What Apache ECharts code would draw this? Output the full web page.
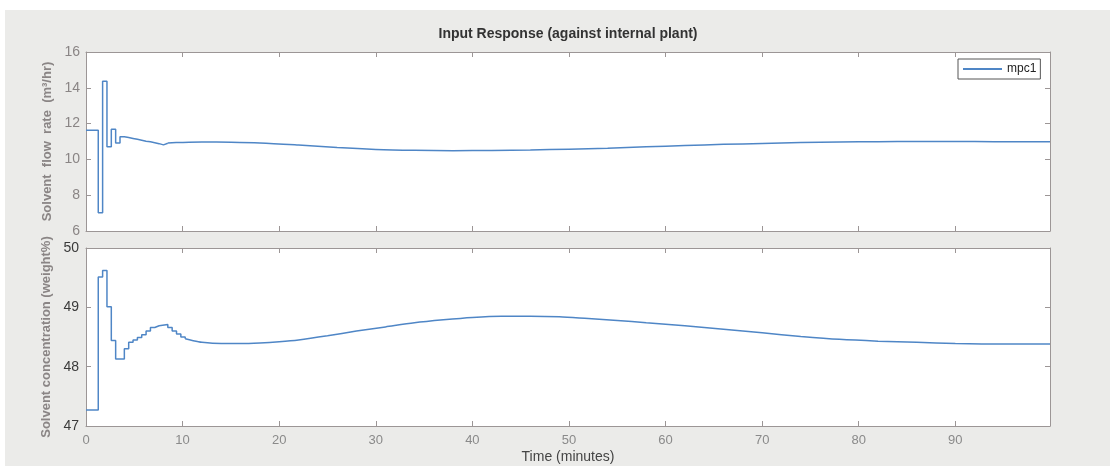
<!DOCTYPE html>
<html>
<head>
<meta charset="utf-8">
<script src="https://cdn.jsdelivr.net/npm/echarts@6/dist/echarts.min.js"></script>
<style>
  html, body { margin: 0; padding: 0; background: #ffffff; }
  #chart { width: 1110px; height: 466px; }
</style>
</head>
<body>
<div id="chart"></div>
<script>
// Solvent flow rate (m3/hr): sampled controller moves, held between samples
const flowStepTime  = [0, 1.27, 1.72, 2.17, 2.62, 3.07, 3.52, 3.97, 4.42, 4.87, 5.32, 5.77, 6.22, 6.67, 7.12, 7.57, 8.02, 8.47];
const flowStepValue = [11.63, 7.02, 14.37, 10.71, 11.69, 10.91, 11.26, 11.22, 11.17, 11.12, 11.07, 11.02, 10.98, 10.93, 10.88, 10.81, 10.9, 10.92];
// Slow tail of the flow-rate response
const flowTailTime  = [8.47, 10, 12, 15, 18, 22, 26, 30, 34, 38, 42, 46, 50, 54, 58, 62, 66, 70, 74, 78, 82, 86, 90, 94, 99.8];
const flowTailValue = [10.92, 10.95, 10.97, 10.96, 10.92, 10.8, 10.66, 10.56, 10.51, 10.49, 10.5, 10.53, 10.57, 10.62, 10.7, 10.77, 10.84, 10.89, 10.94, 10.97, 10.99, 11.0, 11.0, 10.99, 10.98];

// Solvent concentration (weight%)
const concStepTime  = [0, 1.27, 1.72, 2.17, 2.62, 3.07, 3.97, 4.42, 4.87, 5.32, 5.77, 6.22, 6.67, 7.12, 7.57, 8.47, 8.92, 9.37, 9.82, 10.27];
const concStepValue = [47.27, 49.51, 49.62, 49.01, 48.44, 48.13, 48.3, 48.41, 48.45, 48.49, 48.54, 48.6, 48.66, 48.69, 48.71, 48.66, 48.6, 48.55, 48.5, 48.47];
const concTailTime  = [10.27, 11, 12, 14, 16, 18, 20, 22, 25, 28, 31, 34, 37, 40, 43, 46, 49, 52, 55, 58, 62, 66, 70, 74, 78, 82, 86, 90, 95, 99.8];
const concTailValue = [48.47, 48.44, 48.41, 48.39, 48.39, 48.4, 48.42, 48.45, 48.52, 48.6, 48.67, 48.74, 48.79, 48.83, 48.85, 48.85, 48.84, 48.81, 48.78, 48.74, 48.69, 48.63, 48.57, 48.51, 48.46, 48.43, 48.41, 48.39, 48.38, 48.38];

// Axis ranges and ticks
const timeRange  = [0, 99.8];
const timeStep   = 10;
const flowRange  = [6, 16];
const flowStep   = 2;
const concRange  = [47, 50];
const concStep   = 1;

const titleText  = 'Input Response (against internal plant)';
const flowName   = 'Solvent  flow  rate  (m³/hr)';
const concName   = 'Solvent concentration (weight%)';
const timeName   = 'Time (minutes)';
const seriesName = 'mpc1';

const zip = (t, v) => t.map((x, i) => [x, v[i]]);

const FONT = '"Liberation Sans", Arial, Helvetica, sans-serif';
const frameColor = '#9c9696';
const lineColor = '#4f86c6';

function frameAxis(extra) {
  return Object.assign({
    type: 'value',
    axisLine: { show: true, onZero: false, lineStyle: { color: frameColor, width: 1 } },
    axisTick: { show: true, inside: true, length: 5, lineStyle: { color: frameColor, width: 1 } },
    splitLine: { show: false },
    axisLabel: { show: false }
  }, extra);
}

const chart = echarts.init(document.getElementById('chart'), null, { renderer: 'canvas' });

const option = {
  backgroundColor: '#ffffff',
  animation: false,
  graphic: [{
    type: 'rect', z: -10, silent: true,
    shape: { x: 5, y: 10, width: 1105, height: 456 },
    style: { fill: '#ebebe9' }
  }],
  title: {
    text: titleText,
    left: 568, top: 27, textAlign: 'center', padding: 0,
    textStyle: { fontFamily: FONT, fontSize: 14, fontWeight: 'bold', color: '#333333' }
  },
  legend: {
    data: [seriesName],
    icon: 'rect',
    left: 958, top: 59,
    padding: [3, 4, 3, 5],
    itemWidth: 39, itemHeight: 2, itemGap: 0,
    backgroundColor: '#ffffff', borderColor: '#555555', borderWidth: 1,
    textStyle: { fontFamily: FONT, fontSize: 12, lineHeight: 14, color: '#222222' }
  },
  grid: [
    { left: 86, right: 60, top: 52, height: 179, show: true, backgroundColor: '#ffffff', borderWidth: 0 },
    { left: 86, right: 60, top: 248, height: 178, show: true, backgroundColor: '#ffffff', borderWidth: 0 }
  ],
  xAxis: [
    frameAxis({ gridIndex: 0, position: 'bottom', min: timeRange[0], max: timeRange[1], interval: timeStep }),
    frameAxis({ gridIndex: 0, position: 'top', min: timeRange[0], max: timeRange[1], interval: timeStep }),
    frameAxis({
      gridIndex: 1, position: 'bottom', min: timeRange[0], max: timeRange[1], interval: timeStep,
      axisLabel: { show: true, color: '#8a8a8a', fontSize: 13, fontFamily: FONT, margin: 8, showMaxLabel: false },
      name: timeName, nameLocation: 'middle', nameGap: 24,
      nameTextStyle: { fontFamily: FONT, fontSize: 14, color: '#444444' }
    }),
    frameAxis({ gridIndex: 1, position: 'top', min: timeRange[0], max: timeRange[1], interval: timeStep })
  ],
  yAxis: [
    frameAxis({
      gridIndex: 0, position: 'left', min: flowRange[0], max: flowRange[1], interval: flowStep,
      axisLabel: { show: true, color: '#8a8585', fontSize: 14, fontFamily: FONT, margin: 6 },
      name: flowName, nameLocation: 'middle', nameGap: 26, nameRotate: 90,
      nameTextStyle: { fontFamily: FONT, fontSize: 13, fontWeight: 'bold', color: '#8a8585' }
    }),
    frameAxis({ gridIndex: 0, position: 'right', min: flowRange[0], max: flowRange[1], interval: flowStep }),
    frameAxis({
      gridIndex: 1, position: 'left', min: concRange[0], max: concRange[1], interval: concStep,
      axisLabel: { show: true, color: '#3a3a3a', fontSize: 14, fontFamily: FONT, margin: 7 },
      name: concName, nameLocation: 'middle', nameGap: 33, nameRotate: 90,
      nameTextStyle: { fontFamily: FONT, fontSize: 13, fontWeight: 'bold', color: '#8a8585' }
    }),
    frameAxis({ gridIndex: 1, position: 'right', min: concRange[0], max: concRange[1], interval: concStep })
  ],
  series: [
    {
      name: seriesName, type: 'line', xAxisIndex: 0, yAxisIndex: 0,
      data: zip(flowStepTime, flowStepValue), step: 'end', symbol: 'none',
      lineStyle: { color: lineColor, width: 1.5 }, itemStyle: { color: lineColor }
    },
    {
      name: seriesName, type: 'line', xAxisIndex: 0, yAxisIndex: 0,
      data: zip(flowTailTime, flowTailValue), smooth: 0.3, symbol: 'none',
      lineStyle: { color: lineColor, width: 1.5 }, itemStyle: { color: lineColor }
    },
    {
      name: seriesName, type: 'line', xAxisIndex: 2, yAxisIndex: 2,
      data: zip(concStepTime, concStepValue), step: 'end', symbol: 'none',
      lineStyle: { color: lineColor, width: 1.5 }, itemStyle: { color: lineColor }
    },
    {
      name: seriesName, type: 'line', xAxisIndex: 2, yAxisIndex: 2,
      data: zip(concTailTime, concTailValue), smooth: 0.3, symbol: 'none',
      lineStyle: { color: lineColor, width: 1.5 }, itemStyle: { color: lineColor }
    }
  ]
};

chart.setOption(option);
</script>
</body>
</html>
